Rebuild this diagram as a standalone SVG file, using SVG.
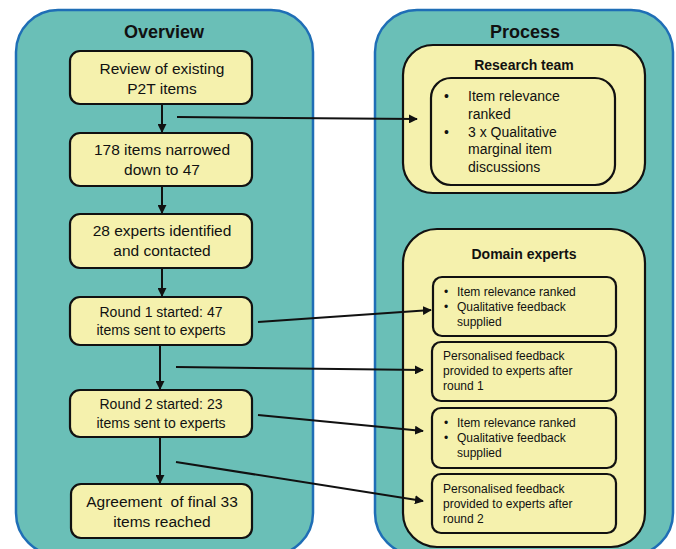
<svg xmlns="http://www.w3.org/2000/svg" width="676" height="549" viewBox="0 0 676 549">
<defs>
<style>
.panel{fill:#6ABFB7;stroke:#1F6EB6;stroke-width:2.5}
.box{fill:#F5F1AD;stroke:#111;stroke-width:2.2}
.t{font-family:"Liberation Sans",Arial,sans-serif;fill:#111;text-anchor:middle}
.tl{font-family:"Liberation Sans",Arial,sans-serif;fill:#111}
.h{font-weight:bold}
.c{stroke:#111;stroke-width:2;fill:none}
</style>
<marker id="ah" viewBox="0 0 10 10" refX="9" refY="5" markerWidth="4.5" markerHeight="4.5" orient="auto" markerUnits="strokeWidth">
<path d="M0,0 L10,5 L0,10 z" fill="#111"/>
</marker>
</defs>
<rect width="676" height="549" fill="#fff"/>
<g id="overview">
<rect class="panel" x="16" y="10" width="297" height="545" rx="42"/>
<text class="t h" x="164" y="38" font-size="18">Overview</text>
</g>
<g id="process">
<rect class="panel" x="375" y="10" width="298" height="545" rx="42"/>
<text class="t h" x="525" y="38" font-size="18">Process</text>
</g>
<g id="n1">
<rect class="box" x="70" y="51" width="182" height="53" rx="10"/>
<text class="t" x="162" y="74" font-size="15.5">Review of existing</text>
<text class="t" x="162" y="94" font-size="15.5">P2T items</text>
</g>
<g id="n2">
<rect class="box" x="70" y="133" width="182" height="53" rx="10"/>
<text class="t" x="162" y="155" font-size="15.5">178 items narrowed</text>
<text class="t" x="162" y="175" font-size="15.5">down to 47</text>
</g>
<g id="n3">
<rect class="box" x="70" y="214" width="182" height="54" rx="10"/>
<text class="t" x="162" y="236" font-size="15.5">28 experts identified</text>
<text class="t" x="162" y="256" font-size="15.5">and contacted</text>
</g>
<g id="n4">
<rect class="box" x="70" y="297" width="182" height="48" rx="10"/>
<text class="t" x="161" y="317" font-size="14">Round 1 started: 47</text>
<text class="t" x="161" y="335" font-size="14">items sent to experts</text>
</g>
<g id="n5">
<rect class="box" x="70" y="390" width="182" height="47" rx="10"/>
<text class="t" x="161" y="409" font-size="14">Round 2 started: 23</text>
<text class="t" x="161" y="428" font-size="14">items sent to experts</text>
</g>
<g id="n6">
<rect class="box" x="71" y="484" width="181" height="54" rx="10"/>
<text class="t" x="162" y="507" font-size="15.5" xml:space="preserve">Agreement  of final 33</text>
<text class="t" x="162" y="527" font-size="15.5">items reached</text>
</g>
<g id="research-team">
<rect class="box" x="403" y="45" width="242" height="148" rx="30"/>
<text class="t h" x="524" y="70" font-size="14">Research team</text>
</g>
<g id="research-list">
<rect class="box" x="431" y="78" width="184" height="107" rx="20"/>
<g class="tl" font-size="14">
<text x="444" y="101">•</text><text x="468" y="101">Item relevance</text>
<text x="468" y="119">ranked</text>
<text x="444" y="137">•</text><text x="468" y="137">3 x Qualitative</text>
<text x="468" y="154">marginal item</text>
<text x="468" y="172">discussions</text>
</g>
</g>
<g id="domain-experts">
<rect class="box" x="403" y="229" width="242" height="318" rx="34"/>
<text class="t h" x="524" y="259" font-size="14">Domain experts</text>
</g>
<g id="d1">
<rect class="box" x="433" y="277" width="183" height="59" rx="9"/>
<g class="tl" font-size="12">
<text x="444" y="296">•</text><text x="457" y="296">Item relevance ranked</text>
<text x="444" y="311">•</text><text x="457" y="311">Qualitative feedback</text>
<text x="457" y="326">supplied</text>
</g>
</g>
<g id="d2">
<rect class="box" x="432" y="342" width="184" height="59" rx="9"/>
<g class="tl" font-size="12">
<text x="443" y="360">Personalised feedback</text>
<text x="443" y="375">provided to experts after</text>
<text x="443" y="390">round 1</text>
</g>
</g>
<g id="d3">
<rect class="box" x="432" y="408" width="184" height="60" rx="9"/>
<g class="tl" font-size="12">
<text x="444" y="427">•</text><text x="457" y="427">Item relevance ranked</text>
<text x="444" y="442">•</text><text x="457" y="442">Qualitative feedback</text>
<text x="457" y="457">supplied</text>
</g>
</g>
<g id="d4">
<rect class="box" x="432" y="474" width="184" height="59" rx="9"/>
<g class="tl" font-size="12">
<text x="443" y="493">Personalised feedback</text>
<text x="443" y="508">provided to experts after</text>
<text x="443" y="523">round 2</text>
</g>
</g>
<g id="connectors">
<line class="c" x1="162" y1="104" x2="162" y2="132" marker-end="url(#ah)"/>
<line class="c" x1="162" y1="186" x2="162" y2="213" marker-end="url(#ah)"/>
<line class="c" x1="162" y1="268" x2="162" y2="296" marker-end="url(#ah)"/>
<line class="c" x1="160" y1="345" x2="160" y2="389" marker-end="url(#ah)"/>
<line class="c" x1="160" y1="437" x2="160" y2="483" marker-end="url(#ah)"/>
<line class="c" x1="177" y1="117" x2="417" y2="119" marker-end="url(#ah)"/>
<line class="c" x1="258" y1="322" x2="431" y2="310" marker-end="url(#ah)"/>
<line class="c" x1="176" y1="367" x2="423" y2="370" marker-end="url(#ah)"/>
<line class="c" x1="258" y1="415" x2="423" y2="431" marker-end="url(#ah)"/>
<line class="c" x1="176" y1="462" x2="423" y2="501" marker-end="url(#ah)"/>
</g>
</svg>
